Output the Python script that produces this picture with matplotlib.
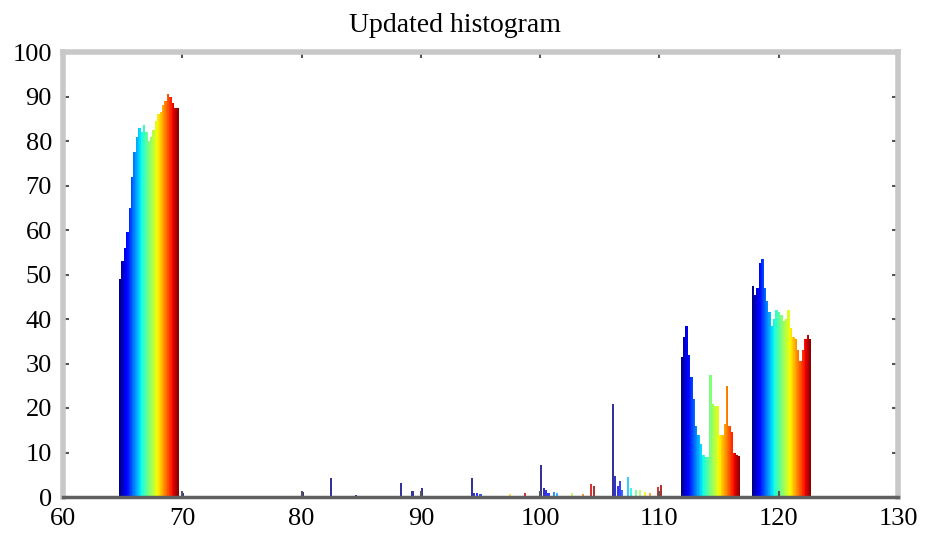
import matplotlib
matplotlib.use("Agg")
import matplotlib.pyplot as plt
import numpy as np

plt.rcParams['font.family'] = ['Liberation Serif', 'DejaVu Serif']

# main clusters, 0.2 wide bins starting at the given x
bin_w = 0.2
c1_start = 64.7
c1_h = [49, 53, 56, 59.5, 65, 72, 77.5, 81, 83, 82, 83.5, 82, 80, 81, 82.5,
        84.5, 86, 86.5, 88, 89, 90.5, 90, 88.5, 87.5, 87.5]
c2_start = 111.78
c2_h = [31.5, 36, 38.5, 32, 27, 22, 16, 14, 12, 9.5, 9, 9, 27.5, 21, 20.5,
        20.5, 14, 14, 16.5, 25, 16, 14.5, 10, 9.5, 9.3]
c3_start = 117.73
c3_h = [47.5, 45.5, 47, 52.5, 53.5, 47, 44, 41.5, 38.5, 40, 42, 41.5, 41, 39.5,
        40, 42, 38, 36, 35.5, 33, 30.5, 33, 35.5, 36.5, 35.5]

# small scattered bars
minor_x = [70.05, 80.1, 82.5, 84.6, 88.3, 89.3, 90.1,
           94.25, 94.45, 94.7, 95.0, 97.5, 98.7,
           100.1, 100.3, 100.5, 100.7, 101.2, 101.4, 102.7, 103.6, 104.3, 104.5,
           106.1, 106.3, 106.5, 106.7, 106.9, 107.4, 107.6, 108.0, 108.4, 108.8,
           109.2, 109.9, 110.1]
minor_h = [0.8, 1.2, 4.2, 0.4, 3.1, 1.3, 2.0,
           4.2, 1.0, 0.8, 0.6, 0.7, 1.0,
           7.2, 2.0, 1.5, 0.8, 1.2, 0.8, 0.8, 0.6, 3.0, 2.5,
           21, 4.7, 2.5, 3.5, 1.5, 4.5, 2.0, 1.5, 1.5, 1.2,
           1.0, 2.2, 2.8]
# colour segments for the small bars (each gets its own jet sweep)
seg_lo = [94.2, 100.1, 106.1]
seg_hi = [99.0, 104.6, 110.2]

fig = plt.figure(figsize=(9.26, 5.36), dpi=100)
ax = fig.add_axes([63 / 926, 39 / 536, 835 / 926, 445 / 536])
cmap = plt.get_cmap('jet')

# each bin drawn as a few slices so the colour sweep looks smooth
sub = 4
for start, h in [(c1_start, c1_h), (c2_start, c2_h), (c3_start, c3_h)]:
    hs = np.repeat(h, sub)
    n = len(hs)
    x = start + (bin_w / sub) * np.arange(n)
    cols = cmap(np.linspace(0, 1, n))
    ax.bar(x, hs, width=bin_w / sub * 1.05, align='edge', color=cols, linewidth=0)

mcols = []
for x in minor_x:
    c = cmap(0.0)
    for lo, hi in zip(seg_lo, seg_hi):
        if lo - 0.01 <= x <= hi:
            c = cmap((x - lo) / (hi - lo))
    mcols.append(c)
ax.bar(minor_x, minor_h, width=0.17, color=mcols, linewidth=0, alpha=0.8)

ax.set_xlim(60, 130)
ax.set_ylim(0, 100)
ax.set_xticks(range(60, 131, 10))
ax.set_yticks(range(0, 101, 10))
ax.tick_params(direction='in', length=4, width=1.5, color='#555555',
               top=True, right=True, labelsize=19, pad=8)

for s in ['left', 'top', 'right']:
    ax.spines[s].set_color('#c8c8c8')
    ax.spines[s].set_linewidth(4)
ax.spines['bottom'].set_color('#606060')
ax.spines['bottom'].set_linewidth(2.5)

fig.text(455 / 926, 1 - 32 / 536, 'Updated histogram', fontsize=20,
         ha='center', va='baseline')

fig.savefig('out.png', dpi=100)
